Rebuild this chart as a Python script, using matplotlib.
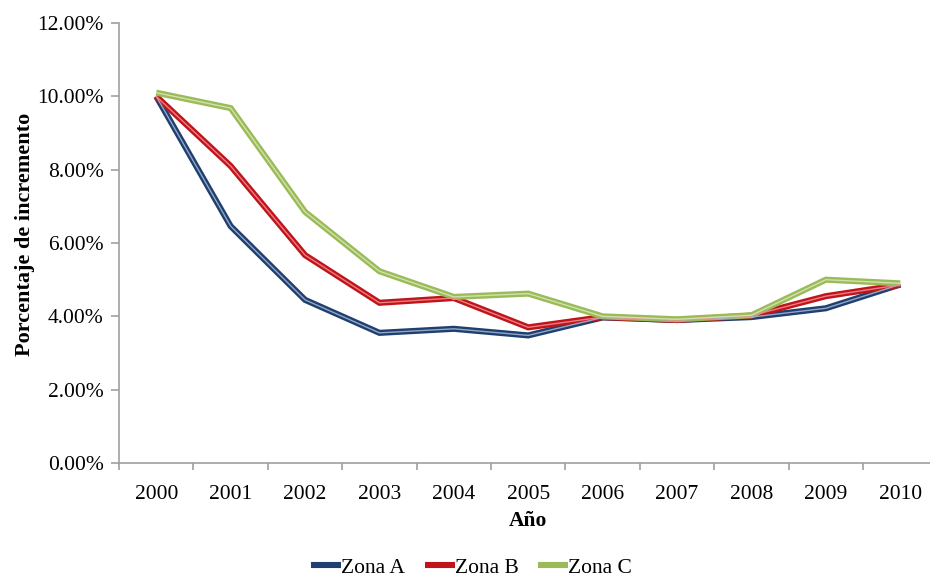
import numpy as np
import matplotlib.pyplot as plt
from matplotlib.ticker import FuncFormatter, FixedLocator

years = ["2000", "2001", "2002", "2003", "2004", "2005",
         "2006", "2007", "2008", "2009", "2010"]

zona_a = [10.00, 6.46, 4.45, 3.55, 3.66, 3.48, 3.97, 3.90, 3.98, 4.22, 4.87]
zona_b = [10.00, 8.10, 5.67, 4.37, 4.50, 3.70, 3.98, 3.90, 4.02, 4.55, 4.86]
zona_c = [10.10, 9.68, 6.85, 5.23, 4.53, 4.62, 4.00, 3.92, 4.03, 5.00, 4.90]

series = [
    ("Zona A", zona_a, "#1F3F6E", "#9FB3D1"),
    ("Zona B", zona_b, "#C0141C", "#F08A8A"),
    ("Zona C", zona_c, "#9BBB59", "#D6E6B5"),
]

plt.rcParams['font.family'] = ['Liberation Serif', 'DejaVu Serif']
fs = 15.5

fig = plt.figure(figsize=(9.3, 5.8), dpi=100)
ax = fig.add_axes([0.128, 0.2017, 0.88, 0.7586])

x = np.arange(len(years))
handles = []
for name, vals, edge, core in series:
    # double-stroke look: wide dark line with a lighter core
    h, = ax.plot(x, vals, color=edge, lw=4.4, solid_joinstyle='miter',
                 solid_capstyle='butt', label=name, zorder=2)
    ax.plot(x, vals, color=core, lw=1.0, solid_joinstyle='miter',
            solid_capstyle='butt', alpha=0.9, zorder=3)
    handles.append(h)

ax.set_xlim(-0.5, len(years) - 0.5)
ax.set_ylim(0, 12)

ax.yaxis.set_major_locator(FixedLocator(np.arange(0, 12.01, 2)))
ax.yaxis.set_major_formatter(FuncFormatter(lambda v, p: f"{v:.2f}%"))

ax.set_xticks(np.arange(-0.5, len(years), 1.0))
ax.set_xticklabels([])
ax.set_xticks(x, minor=True)
ax.set_xticklabels(years, minor=True)
ax.tick_params(axis='x', which='minor', length=0, pad=16, labelsize=fs)
ax.tick_params(axis='x', which='major', length=5, color='#A0A0A0', width=1.2)
ax.tick_params(axis='y', length=6, color='#A0A0A0', width=1.2, labelsize=fs, pad=5)

for s in ['top', 'right']:
    ax.spines[s].set_visible(False)
for s in ['left', 'bottom']:
    ax.spines[s].set_color('#A0A0A0')
    ax.spines[s].set_linewidth(1.2)

ax.set_ylabel("Porcentaje de incremento", fontsize=16, fontweight='bold')
ax.yaxis.set_label_coords(-0.103, 0.52)
ax.set_xlabel("Año", fontsize=fs, fontweight='bold', labelpad=5)

fig.legend(handles=handles, loc='lower center', bbox_to_anchor=(0.507, -0.03),
           ncol=3, frameon=False, fontsize=fs, handlelength=1.4,
           handletextpad=0.0, columnspacing=0.9)

fig.savefig("out.png", dpi=100)
